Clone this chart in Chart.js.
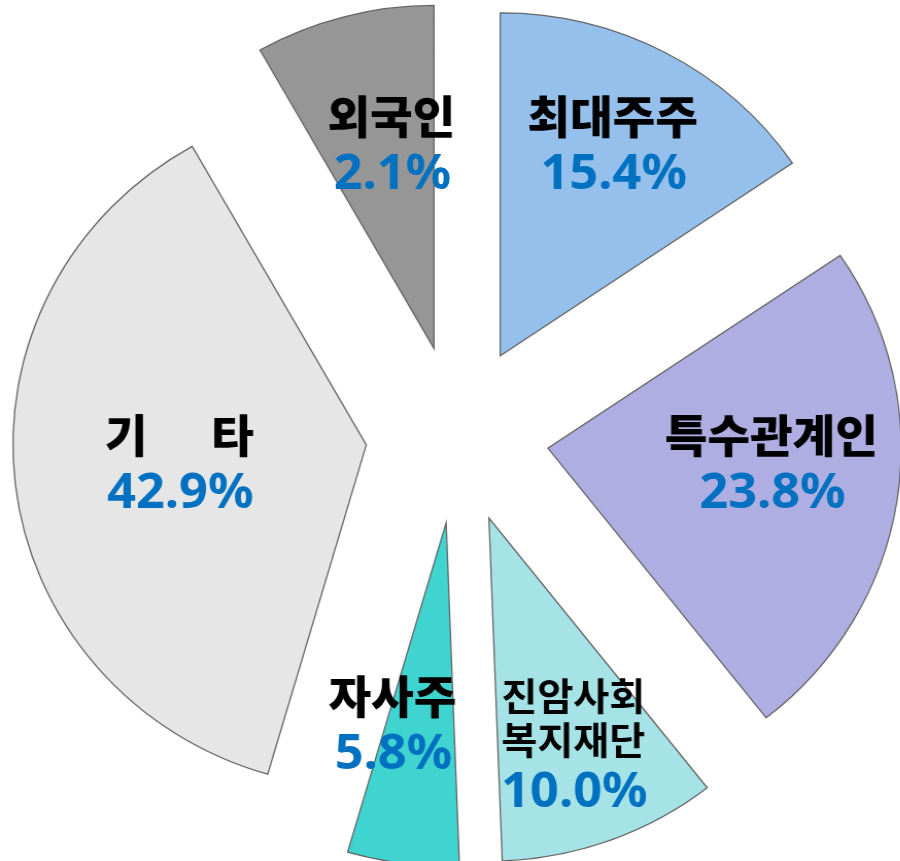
<!DOCTYPE html>
<html lang="ko">
<head>
<meta charset="utf-8">
<title>주주 구성</title>
<script src="https://cdn.jsdelivr.net/npm/chart.js@4.4.1/dist/chart.umd.min.js"></script>
<style>
  html, body { margin: 0; padding: 0; background: #fff; overflow: hidden; }
  /* the reference is slightly wider than tall, so the whole chart is stretched a little */
  #wrap { position: relative; width: 874px; height: 861px; transform: scaleX(1.03); transform-origin: 0 0; }
</style>
</head>
<body>
<div id="wrap"><canvas id="holderChart"></canvas></div>
<script>
const holders = ["최대주주", "특수관계인", ["진암사회", "복지재단"], "자사주", "기      타", "외국인"];
// percentages as printed on the slices
const shareLabels = ["15.4%", "23.8%", "10.0%", "5.8%", "42.9%", "2.1%"];
// slice sizes as they are drawn (the drawn 기타 / 외국인 split differs from the printed labels)
const sliceShares = [15.5, 23.9, 10.0, 5.1, 37.3, 8.2];
const sliceColors = ["#95C0EC", "#AEAEE2", "#A5E3E6", "#40D4D0", "#E6E6E6", "#969696"];

// exploded look
const explodeGap = 89;
// where each label sits: [angle clockwise from 12 o'clock, fraction of radius]
const labelSpots = [[25.4, 1.025], [90.3, 0.889], [156.7, 0.83], [193.5, 0.787], [269.7, 0.787], [348.6, 0.944]];

const explodeSlices = {
  id: "explodeSlices",
  beforeDatasetsDraw(chart) {
    chart.getDatasetMeta(0).data.forEach(arc => {
      const mid = (arc.startAngle + arc.endAngle) / 2;
      const dx = Math.cos(mid) * explodeGap;
      const dy = Math.sin(mid) * explodeGap;
      const baseDraw = Object.getPrototypeOf(arc).draw;
      arc.draw = function (ctx) {
        ctx.save();
        ctx.translate(dx, dy);
        baseDraw.call(this, ctx);
        ctx.restore();
      };
    });
  }
};

const sliceLabels = {
  id: "sliceLabels",
  afterDatasetsDraw(chart) {
    const ctx = chart.ctx;
    chart.getDatasetMeta(0).data.forEach((arc, i) => {
      const [deg, frac] = labelSpots[i];
      const a = (deg - 90) * Math.PI / 180;
      const x = arc.x + Math.cos(a) * arc.outerRadius * frac;
      let y = arc.y + Math.sin(a) * arc.outerRadius * frac;
      const lines = [].concat(holders[i]);
      const small = lines.length > 1;
      ctx.save();
      ctx.textAlign = "center";
      ctx.textBaseline = "middle";
      ctx.fillStyle = "#000";
      ctx.font = small ? "bold 38px 'Noto Sans CJK KR'" : "900 45px 'Noto Sans CJK KR'";
      lines.forEach((t, k) => {
        ctx.fillText(t, x, y);
        if (k < lines.length - 1) y += 44;
      });
      y += small ? 49 : 54;
      ctx.textBaseline = "alphabetic";
      ctx.fillStyle = "#0070C0";
      ctx.font = "bold 49px 'Noto Sans'";
      ctx.fillText(shareLabels[i], x + 1, y + 18);
      ctx.restore();
    });
  }
};

new Chart(document.getElementById("holderChart"), {
  type: "pie",
  data: {
    labels: holders,
    datasets: [{
      data: sliceShares,
      backgroundColor: sliceColors,
      borderColor: "#666666",
      borderWidth: 1.3,
      borderJoinStyle: "miter",
      radius: 343,
      clip: false
    }]
  },
  options: {
    responsive: true,
    maintainAspectRatio: false,
    animation: false,
    events: [],
    layout: { padding: { left: 14, top: 8, right: 0, bottom: 0 } },
    plugins: {
      legend: { display: false },
      tooltip: { enabled: false }
    }
  },
  plugins: [explodeSlices, sliceLabels]
});
</script>
</body>
</html>
